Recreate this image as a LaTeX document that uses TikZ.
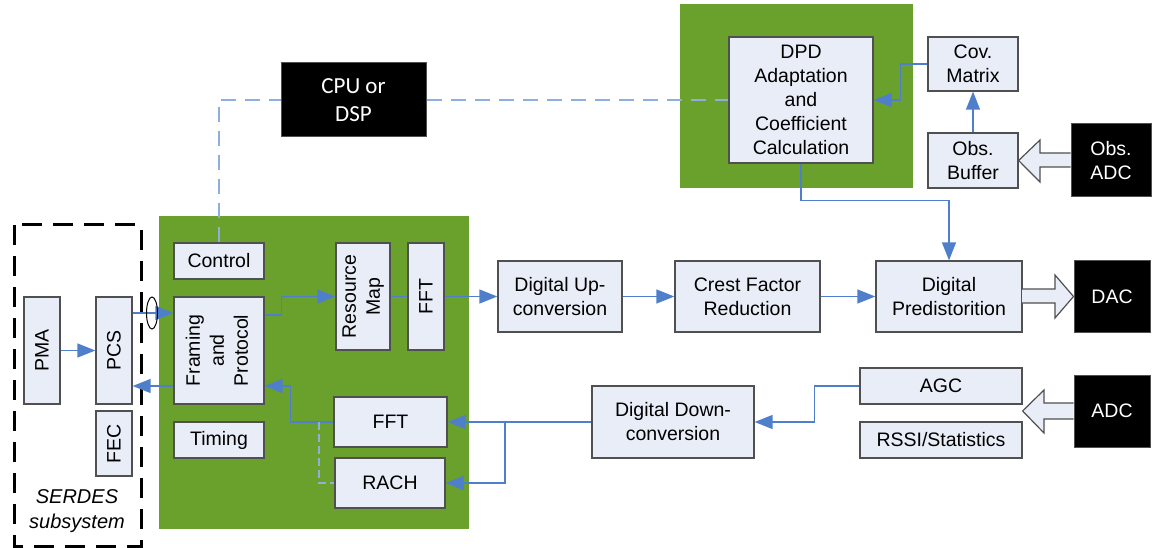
\documentclass[tikz,border=0pt]{standalone}
\usepackage{fontspec}
\setmainfont{Liberation Sans}
\newfontfamily\calfont{Carlito}
\usetikzlibrary{arrows.meta,shapes.geometric}
\definecolor{boardgreen}{RGB}{106,160,44}
\definecolor{boxfill}{RGB}{232,237,247}
\definecolor{boxline}{RGB}{80,80,80}
\definecolor{linkblue}{RGB}{79,127,203}
\definecolor{ctrlblue}{RGB}{142,174,219}
\tikzset{
  box/.style={draw=boxline, line width=1.2pt, fill=boxfill, inner sep=0pt, align=center,
    font=\fontsize{19.5}{24}\selectfont},
  blackbox/.style={draw=boxline, line width=1pt, fill=black, text=white, inner sep=0pt, align=center,
    font=\fontsize{19.5}{24}\selectfont},
  link/.style={draw=linkblue, line width=1.3pt},
  arr/.style={link, -{Triangle[length=18pt,width=14pt]}},
  ctrl/.style={draw=ctrlblue, line width=1.4pt, dash pattern=on 15pt off 9pt},
  hollow/.style={draw=boxline, line width=1.2pt, fill=boxfill, line join=miter},
  board/.style={fill=boardgreen},
}
\begin{document}
\begin{tikzpicture}[x=1pt,y=-1pt]
\useasboundingbox (0,0) rectangle (1157,548);

% green boards
\fill[boardgreen] (159,216) rectangle (469,529);
\fill[boardgreen] (680,4) rectangle (913,188);

% SERDES subsystem outline
\draw[black, line width=3pt, dash pattern=on 20pt off 11pt] (14,225) rectangle (141,546);
\node[font=\fontsize{20}{25}\selectfont\itshape, align=center] (serdes) at (77,511) {SERDES\\subsystem};

% SERDES blocks
\node[box, minimum width=36pt, minimum height=107pt] (PMA) at (42,350.5) {\rotatebox{90}{PMA}};
\node[box, minimum width=36pt, minimum height=107pt] (PCS) at (114,350.5) {\rotatebox{90}{PCS}};
\node[box, minimum width=36pt, minimum height=65pt] (FEC) at (114,443.5) {\rotatebox{90}{FEC}};

% baseband board
\node[box, minimum width=90pt, minimum height=36pt] (Control) at (219,261) {Control};
\node[box, minimum width=90pt, minimum height=107pt] (Framing) at (219,350.5)
  {\rotatebox{90}{\begin{tabular}{@{}c@{}}Framing\\and\\Protocol\end{tabular}}};
\node[box, minimum width=90pt, minimum height=36pt] (Timing) at (219,440) {Timing};
\node[box, minimum width=54pt, minimum height=107pt] (ResMap) at (363,296.5)
  {\rotatebox{90}{\begin{tabular}{@{}c@{}}Resource\\Map\end{tabular}}};
\node[box, minimum width=36pt, minimum height=107pt] (FFTtx) at (426,296.5) {\rotatebox{90}{FFT}};
\node[box, minimum width=113pt, minimum height=50pt] (FFTrx) at (390.5,422) {FFT};
\node[box, minimum width=110pt, minimum height=50pt] (RACH) at (390,483) {RACH};

% transmit chain
\node[box, minimum width=124pt, minimum height=71pt] (DUC) at (560,296.5) {Digital Up-\\conversion};
\node[box, minimum width=145pt, minimum height=71pt] (CFR) at (747.5,296.5) {Crest Factor\\Reduction};
\node[box, minimum width=146pt, minimum height=71pt] (DPDist) at (949,296.5) {Digital\\Predistorition};
\node[blackbox, minimum width=76pt, minimum height=71pt] (DAC) at (1112,296.5) {DAC};

% receive chain
\node[box, minimum width=162pt, minimum height=36pt] (AGC) at (941,386) {AGC};
\node[box, minimum width=162pt, minimum height=36pt] (RSSI) at (941,440) {RSSI/Statistics};
\node[blackbox, minimum width=76pt, minimum height=72pt] (ADC) at (1112,411) {ADC};
\node[box, minimum width=162pt, minimum height=72pt] (DDC) at (673,422) {Digital Down-\\conversion};

% DPD adaptation
\node[box, minimum width=144pt, minimum height=126pt] (DPD) at (801,100)
  {DPD\\Adaptation\\and\\Coefficient\\Calculation};
\node[box, minimum width=90pt, minimum height=54pt] (Cov) at (973,64) {Cov.\\Matrix};
\node[box, minimum width=90pt, minimum height=55pt] (ObsBuf) at (973,160.5) {Obs.\\Buffer};
\node[blackbox, minimum width=80pt, minimum height=73pt] (ObsADC) at (1111,160.5) {Obs.\\ADC};

% processor
\node[blackbox, minimum width=145pt, minimum height=74pt,
  font=\calfont\fontsize{23}{28}\selectfont] (CPU) at (353.5,100) {CPU or\\DSP};

% control paths
\coordinate (cputurn) at (219,100);
\draw[ctrl] (Control.north) -- (cputurn) -- (CPU.west);
\draw[ctrl] (CPU.east) -- (DPD.west);

% SERDES links
\draw[arr] (PMA) -- (PCS);
\draw[arr] (PCS.east |- 0,313) -- (Framing.west |- 0,313);
\draw[black, line width=1pt] (152,313) ellipse [x radius=5.5, y radius=16];
\draw[arr] (Framing.west |- 0,386) -- (PCS.east |- 0,386);

% transmit links
\draw[arr] (Framing.east |- 0,315) -- ++(17,0) |- (ResMap.west);
\draw[link] (ResMap.east) -- (FFTtx.west);
\draw[arr] (FFTtx.east) -- (DUC.west);
\draw[arr] (DUC) -- (CFR);
\draw[arr] (CFR) -- (DPDist);
\draw[arr] (DPD.south) -- ++(0,37) -| (DPDist.north);

% receive links
\draw[arr] (AGC.west) -- ++(-45,0) |- (DDC.east);
\draw[arr] (DDC.west) -- (FFTrx.east);
\coordinate (split) at (505,422);
\draw[arr] (split) |- (RACH.east);
\draw[arr] (FFTrx.west) -- ++(-43,0) |- (Framing.east |- 0,386);
\coordinate (rachtap) at (319,422);
\draw[ctrl, dash pattern=on 8pt off 4pt] (rachtap) |- (RACH.west);

% observation path
\draw[arr] (Cov.west) -- ++(-27,0) |- (DPD.east);
\draw[arr] (ObsBuf.north) -- (Cov.south);

% wide data arrows
\draw[hollow] (1022,289) -- (1055,289) -- (1055,275) -- (DAC.west) -- (1055,318) -- (1055,303) -- (1022,303);
\draw[hollow] (ADC.west |- 0,403) -- (1044,403) -- (1044,390) -- (AGC.east |- 0,411) -- (1044,433) -- (1044,419) -- (ADC.west |- 0,419);
\draw[hollow] (ObsADC.west |- 0,153) -- (1040,153) -- (1040,140) -- (ObsBuf.east |- 0,160.5) -- (1040,182) -- (1040,167) -- (ObsADC.west |- 0,167);
\end{tikzpicture}
\end{document}
